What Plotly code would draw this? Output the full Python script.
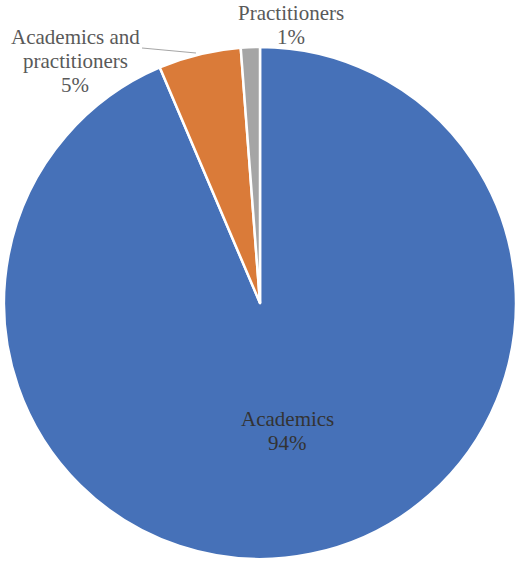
import plotly.graph_objects as go

labels = ["Academics", "Academics and practitioners", "Practitioners"]
values = [93.6, 5.2, 1.2]
pct_labels = ["94%", "5%", "1%"]
label_lines = [["Academics"], ["Academics and", "practitioners"], ["Practitioners"]]
colors = ["#4671B8", "#DA7B39", "#A5A5A5"]

W, H = 520, 564
FONT = "Liberation Serif"

fig = go.Figure(go.Pie(
    labels=labels, values=values, sort=False, direction="clockwise", rotation=0,
    marker=dict(colors=colors, line=dict(color="white", width=2.5)),
    textinfo="none", hoverinfo="label+percent", showlegend=False,
    domain=dict(x=[4 / W, 516 / W], y=[1 - 559 / H, 1 - 47 / H]),
))

# label anchor (pixel centre of first line) per slice, line step in px
anchors = [(287, 419, "#333333"), (75, 37, "#595959"), (291, 13, "#595959")]
step = 24
annotations = []
for lines, pct, (ax, ay, col) in zip(label_lines, pct_labels, anchors):
    for i, t in enumerate(lines + [pct]):
        annotations.append(dict(
            x=ax / W, y=1 - (ay + i * step) / H, xref="paper", yref="paper",
            text=t, showarrow=False, xanchor="center", yanchor="middle",
            font=dict(family=FONT, size=21, color=col),
        ))

fig.update_layout(
    width=W, height=H, margin=dict(l=0, r=0, t=0, b=0),
    paper_bgcolor="white", plot_bgcolor="white",
    font=dict(family=FONT, size=21),
    annotations=annotations,
    shapes=[dict(type="line", xref="paper", yref="paper",
                 x0=142 / W, y0=1 - 48 / H, x1=196 / W, y1=1 - 53 / H,
                 line=dict(color="#A6A6A6", width=1.2))],
)

fig.write_html("out.html")
